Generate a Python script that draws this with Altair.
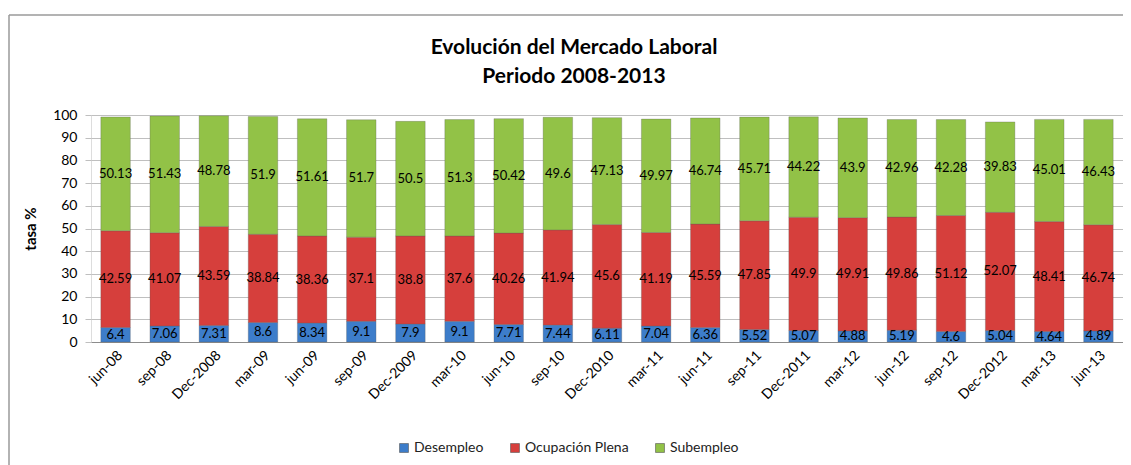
import altair as alt
import pandas as pd

periods = ["jun-08", "sep-08", "Dec-2008", "mar-09", "jun-09", "sep-09", "Dec-2009",
           "mar-10", "jun-10", "sep-10", "Dec-2010", "mar-11", "jun-11", "sep-11",
           "Dec-2011", "mar-12", "jun-12", "sep-12", "Dec-2012", "mar-13", "jun-13"]
desempleo = [6.4, 7.06, 7.31, 8.6, 8.34, 9.1, 7.9, 9.1, 7.71, 7.44, 6.11, 7.04,
             6.36, 5.52, 5.07, 4.88, 5.19, 4.6, 5.04, 4.64, 4.89]
ocupacion = [42.59, 41.07, 43.59, 38.84, 38.36, 37.1, 38.8, 37.6, 40.26, 41.94, 45.6,
             41.19, 45.59, 47.85, 49.9, 49.91, 49.86, 51.12, 52.07, 48.41, 46.74]
subempleo = [50.13, 51.43, 48.78, 51.9, 51.61, 51.7, 50.5, 51.3, 50.42, 49.6, 47.13,
             49.97, 46.74, 45.71, 44.22, 43.9, 42.96, 42.28, 39.83, 45.01, 46.43]
series = ["Desempleo", "Ocupación Plena", "Subempleo"]
colors = ["#3D7DCA", "#D63F3C", "#92C247"]
yticks = [0, 10, 20, 30, 40, 50, 60, 70, 80, 90, 100]

rows = []
for name, vals in zip(series, [desempleo, ocupacion, subempleo]):
    for p, v in zip(periods, vals):
        rows.append({"periodo": p, "serie": name, "valor": v, "orden": series.index(name)})
df = pd.DataFrame(rows)

FONT = "Lato, Open Sans, sans-serif"

base = alt.Chart(df).transform_stack(
    stack="valor", groupby=["periodo"], as_=["y0", "y1"],
    sort=[alt.SortField("orden", order="ascending")]
).transform_calculate(mid="(datum.y0 + datum.y1) / 2")

xaxis = alt.Axis(labelAngle=-45, labelFontSize=14, labelFont=FONT,
                 labelColor="#000000", ticks=False, domainColor="#8c8c8c",
                 labelPadding=6)
xscale = alt.Scale(paddingInner=0.4, paddingOuter=0.2)
yaxis = alt.Axis(values=yticks, labelFontSize=14, labelFont=FONT, labelOverlap=False,
                 labelColor="#000000", titleFont=FONT, titleFontSize=15,
                 titleFontWeight="bold", titleColor="#000000", titlePadding=14,
                 domain=False, tickColor="#bfbfbf", tickSize=6, gridColor="#bfbfbf",
                 labelPadding=8)
yscale = alt.Scale(domain=[0, 100])

bars = base.mark_bar(stroke="#5a5a5a", strokeWidth=0.6, strokeOpacity=0.5).encode(
    x=alt.X("periodo:N", sort=periods, title=None, scale=xscale, axis=xaxis),
    y=alt.Y("y0:Q", title="tasa %", scale=yscale, axis=yaxis),
    y2="y1:Q",
    color=alt.Color("serie:N", scale=alt.Scale(domain=series, range=colors),
                    legend=alt.Legend(title=None, orient="none", direction="horizontal",
                                      legendX=306, legendY=326, symbolType="square",
                                      symbolSize=80, symbolStrokeWidth=0.6,
                                      symbolStrokeColor="#555555",
                                      labelFontSize=14, labelFont=FONT, labelColor="#222222",
                                      columnPadding=24, symbolOffset=0, labelOffset=3)),
    order=alt.Order("orden:Q"),
)

labels = base.mark_text(fontSize=13, font=FONT, color="#000000", baseline="middle").encode(
    x=alt.X("periodo:N", sort=periods, title=None, scale=xscale, axis=xaxis),
    y=alt.Y("mid:Q", title="tasa %", scale=yscale, axis=yaxis),
    text=alt.Text("valor:Q"),
)

frame_df = pd.DataFrame({"k": [0]})
frame_top = alt.Chart(frame_df).mark_rule(color="#9a9a9a", strokeWidth=1.5).encode(
    x=alt.value(-82), x2=alt.value(1040), y=alt.value(-100))
frame_left = alt.Chart(frame_df).mark_rule(color="#9a9a9a", strokeWidth=1.5).encode(
    x=alt.value(-82), y=alt.value(-100), y2=alt.value(360))

chart = alt.layer(frame_top, frame_left, bars, labels).properties(
    width=1032, height=227,
    autosize=alt.AutoSizeParams(type="none"),
    padding={"left": 83, "top": 107, "right": 0, "bottom": 123},
    title=alt.TitleParams(text=["Evolución del Mercado Laboral", "Periodo 2008-2013"],
                          font=FONT, fontSize=21, fontWeight="bold", color="#000000",
                          anchor="middle", frame="group", dx=-33, offset=-73, lineHeight=29),
).configure_view(stroke=None).configure(background="white")

chart.save("out.html", embed_options={"renderer": "svg", "actions": False})
